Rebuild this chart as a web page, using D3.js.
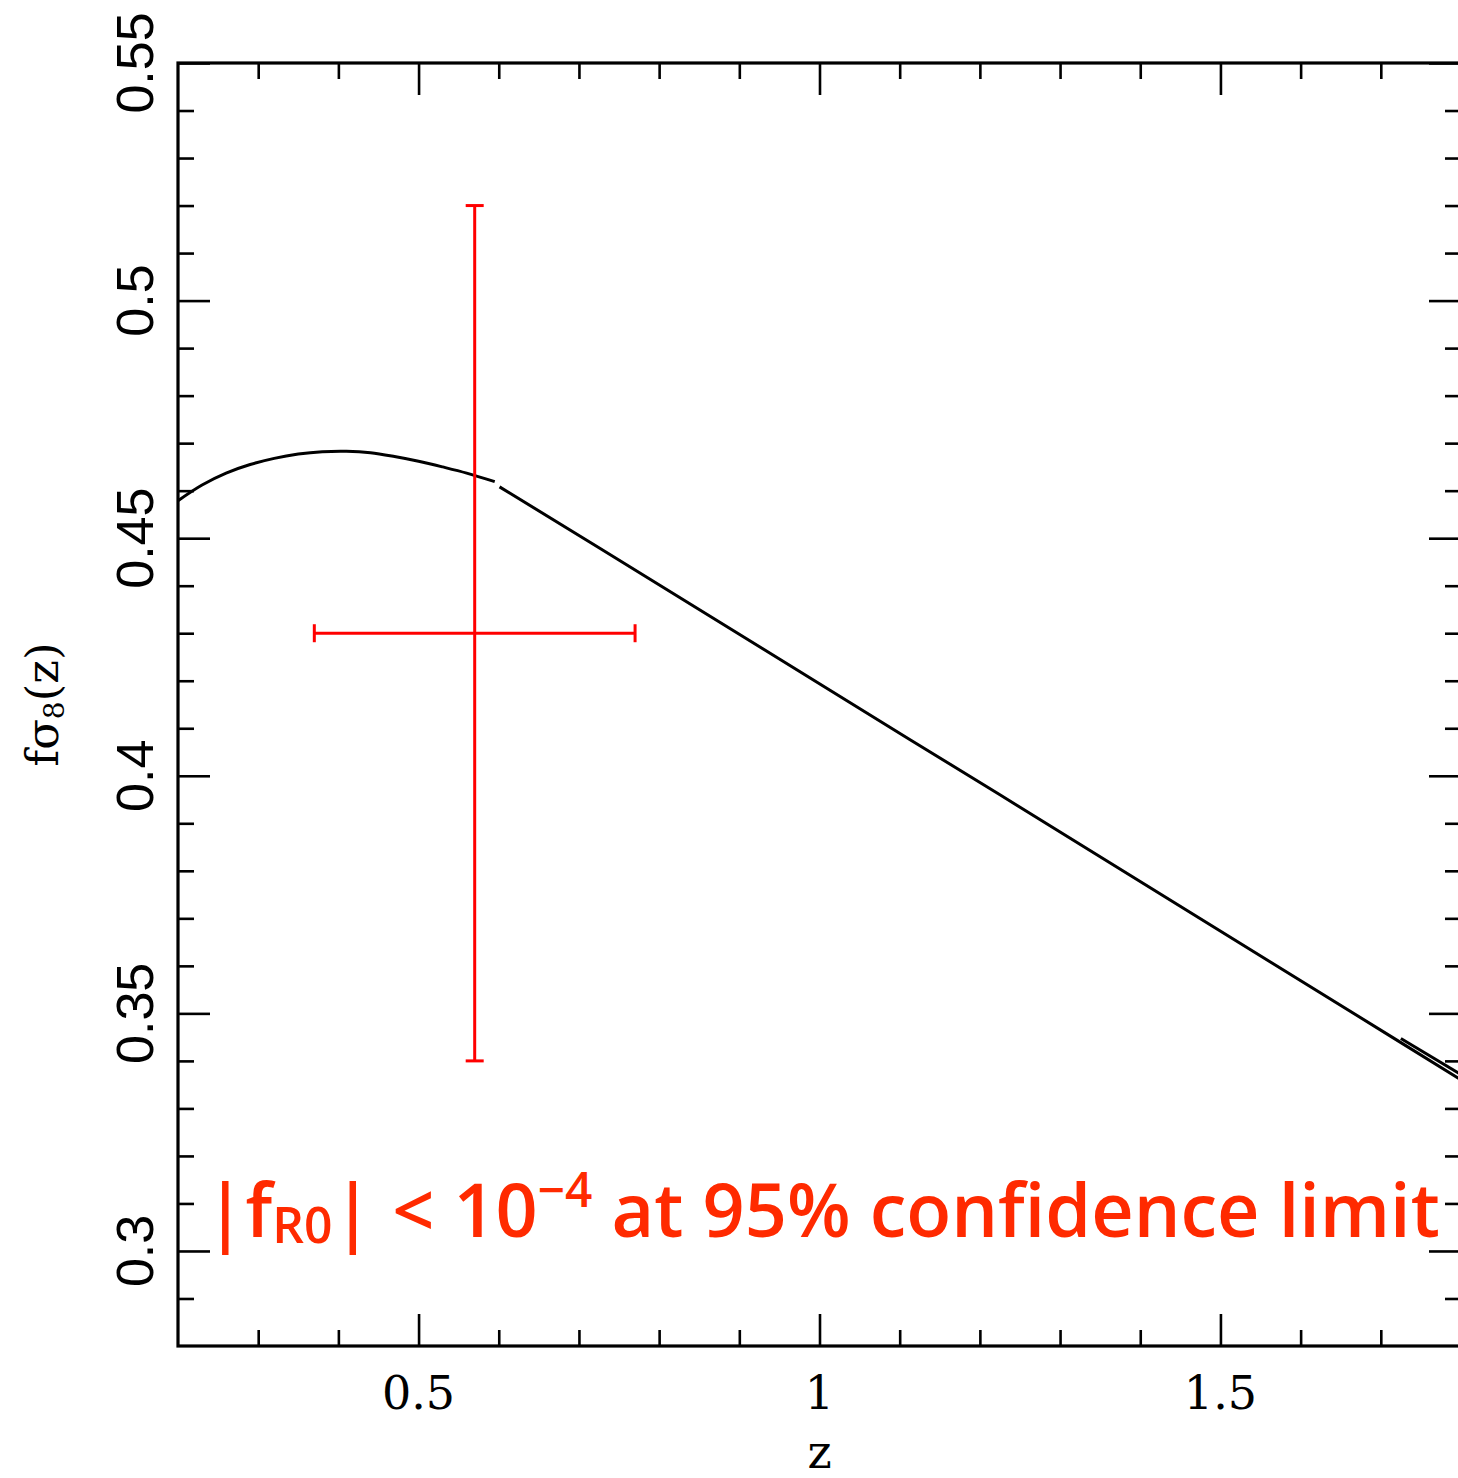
<!DOCTYPE html>
<html>
<head>
<meta charset="utf-8">
<script src="https://cdn.jsdelivr.net/npm/d3@7"></script>
<style>
  html, body { margin: 0; padding: 0; background: #fff; }
  svg { display: block; }
</style>
</head>
<body>
<svg id="chart" width="1458" height="1478"></svg>
<script>
// ---- data ----
const curveZ1 = [0.20, 0.23, 0.26, 0.29, 0.32, 0.35, 0.38, 0.41, 0.44, 0.47, 0.50, 0.53, 0.56, 0.595];
const curveF1 = [0.4579, 0.4612, 0.4637, 0.4655, 0.4668, 0.4677, 0.4682, 0.4683, 0.4680, 0.4672, 0.4662, 0.4650, 0.4637, 0.4619];
const curveZ2 = [0.601, 0.726, 1.113, 1.225, 1.715, 1.80];
const curveF2 = [0.4608, 0.4479, 0.4076, 0.3960, 0.3449, 0.3360];
const curveZ3 = [1.725, 1.80];
const curveF3 = [0.3447, 0.3371];
const pointZ = [0.57], pointZErr = [0.20];
const pointF = [0.43], pointFErr = [0.09];
const xTickValues = [0.5, 1, 1.5];
const xTickLabels = ["0.5", "1", "1.5"];
const yTickValues = [0.30, 0.35, 0.40, 0.45, 0.50, 0.55];
const yTickLabels = ["0.3", "0.35", "0.4", "0.45", "0.5", "0.55"];

// ---- layout ----
const L = 178, T = 63, R = 1461, B = 1346;
const svg = d3.select("#chart");
const x = d3.scaleLinear().domain([0.2, 1.8]).range([L, R]);
const y = d3.scaleLinear().domain([0.28, 0.55]).range([B, T]);

const minorX = d3.range(3, 18).map(d => d / 10);
const minorY = d3.range(29, 55).map(d => d / 100);
const isMajorX = v => xTickValues.some(t => Math.abs(t - v) < 1e-6);
const isMajorY = v => yTickValues.some(t => Math.abs(t - v) < 1e-6);
const minLen = 16, majLen = 32, tickW = 2.6;

function addAxis(axisGen, transform) {
  const g = svg.append("g").attr("transform", transform).call(axisGen);
  g.select(".domain").remove();
  g.selectAll(".tick line").attr("stroke", "#000").attr("stroke-width", tickW);
  g.selectAll(".tick text").remove();
  return g;
}
addAxis(d3.axisTop(x).tickValues(minorX.filter(v => !isMajorX(v))).tickSizeInner(minLen).tickSizeOuter(0), `translate(0,${B})`);
addAxis(d3.axisTop(x).tickValues(xTickValues).tickSizeInner(majLen).tickSizeOuter(0), `translate(0,${B})`);
addAxis(d3.axisBottom(x).tickValues(minorX.filter(v => !isMajorX(v))).tickSizeInner(minLen).tickSizeOuter(0), `translate(0,${T})`);
addAxis(d3.axisBottom(x).tickValues(xTickValues).tickSizeInner(majLen).tickSizeOuter(0), `translate(0,${T})`);
addAxis(d3.axisRight(y).tickValues(minorY.filter(v => !isMajorY(v))).tickSizeInner(minLen).tickSizeOuter(0), `translate(${L},0)`);
addAxis(d3.axisRight(y).tickValues(yTickValues).tickSizeInner(majLen).tickSizeOuter(0), `translate(${L},0)`);
addAxis(d3.axisLeft(y).tickValues(minorY.filter(v => !isMajorY(v))).tickSizeInner(minLen).tickSizeOuter(0), `translate(${R},0)`);
addAxis(d3.axisLeft(y).tickValues(yTickValues).tickSizeInner(majLen).tickSizeOuter(0), `translate(${R},0)`);

svg.append("rect")
  .attr("x", L).attr("y", T).attr("width", R - L).attr("height", B - T)
  .attr("fill", "none").attr("stroke", "#000").attr("stroke-width", 3.2);

svg.append("g").selectAll("text").data(xTickValues).join("text")
  .attr("x", d => x(d)).attr("y", 1409)
  .attr("text-anchor", "middle")
  .attr("font-family", "DejaVu Serif")
  .attr("font-size", 46)
  .attr("fill", "#000")
  .text((d, i) => xTickLabels[i]);

svg.append("g").selectAll("text").data(yTickValues).join("text")
  .attr("transform", d => `translate(153,${y(d)}) rotate(-90)`)
  .attr("text-anchor", "middle")
  .attr("font-family", "Liberation Sans")
  .attr("font-size", 52)
  .attr("fill", "#000")
  .text((d, i) => yTickLabels[i]);

svg.append("text")
  .attr("x", x(1)).attr("y", 1468)
  .attr("text-anchor", "middle")
  .attr("font-family", "DejaVu Serif")
  .attr("font-size", 46)
  .text("z");

const yl = svg.append("text")
  .attr("transform", `translate(58,${(T + B) / 2}) rotate(-90)`)
  .attr("text-anchor", "middle")
  .attr("font-family", "DejaVu Serif")
  .attr("font-size", 45);
yl.append("tspan").text("fσ");
yl.append("tspan").attr("font-size", 28).attr("dy", 6).text("8");
yl.append("tspan").attr("dy", -6).text("(z)");

const line = d3.line().x(d => x(d[0])).y(d => y(d[1])).curve(d3.curveCatmullRom);
const lineStraight = d3.line().x(d => x(d[0])).y(d => y(d[1]));
const seg1 = curveZ1.map((z, i) => [z, curveF1[i]]);
const seg2 = curveZ2.map((z, i) => [z, curveF2[i]]);
const seg3 = curveZ3.map((z, i) => [z, curveF3[i]]);
svg.append("path").attr("d", line(seg1)).attr("fill", "none").attr("stroke", "#000").attr("stroke-width", 3);
svg.append("path").attr("d", lineStraight(seg2)).attr("fill", "none").attr("stroke", "#000").attr("stroke-width", 3);
svg.append("path").attr("d", lineStraight(seg3)).attr("fill", "none").attr("stroke", "#000").attr("stroke-width", 3);

const red = "#ff0000", cap = 9;
pointZ.forEach((z, i) => {
  const g = svg.append("g").attr("stroke", red).attr("stroke-width", 3).attr("fill", "none");
  const f = pointF[i];
  g.append("line").attr("x1", x(z)).attr("x2", x(z)).attr("y1", y(f - pointFErr[i])).attr("y2", y(f + pointFErr[i]));
  g.append("line").attr("x1", x(z) - cap).attr("x2", x(z) + cap).attr("y1", y(f + pointFErr[i])).attr("y2", y(f + pointFErr[i]));
  g.append("line").attr("x1", x(z) - cap).attr("x2", x(z) + cap).attr("y1", y(f - pointFErr[i])).attr("y2", y(f - pointFErr[i]));
  g.append("line").attr("x1", x(z - pointZErr[i])).attr("x2", x(z + pointZErr[i])).attr("y1", y(f)).attr("y2", y(f));
  g.append("line").attr("x1", x(z - pointZErr[i])).attr("x2", x(z - pointZErr[i])).attr("y1", y(f) - cap).attr("y2", y(f) + cap);
  g.append("line").attr("x1", x(z + pointZErr[i])).attr("x2", x(z + pointZErr[i])).attr("y1", y(f) - cap).attr("y2", y(f) + cap);
});

const ann = svg.append("text")
  .attr("x", 0).attr("y", 0)
  .attr("font-family", "Open Sans")
  .attr("font-weight", 600)
  .attr("font-size", 74)
  .attr("fill", "#ff2a00");
ann.append("tspan").text("|f");
ann.append("tspan").attr("font-size", 50).attr("dy", 6).text("R0");
ann.append("tspan").attr("dy", -6).text("| < 10");
ann.append("tspan").attr("font-size", 48).attr("dy", -30).text("−4");
ann.append("tspan").attr("dy", 30).text(" at 95% confidence limit");
const bb = ann.node().getBBox();
const sx = (1440 - 205) / bb.width;
ann.attr("transform", `translate(${205 - bb.x * sx},1237) scale(${sx},1)`);
</script>
</body>
</html>
